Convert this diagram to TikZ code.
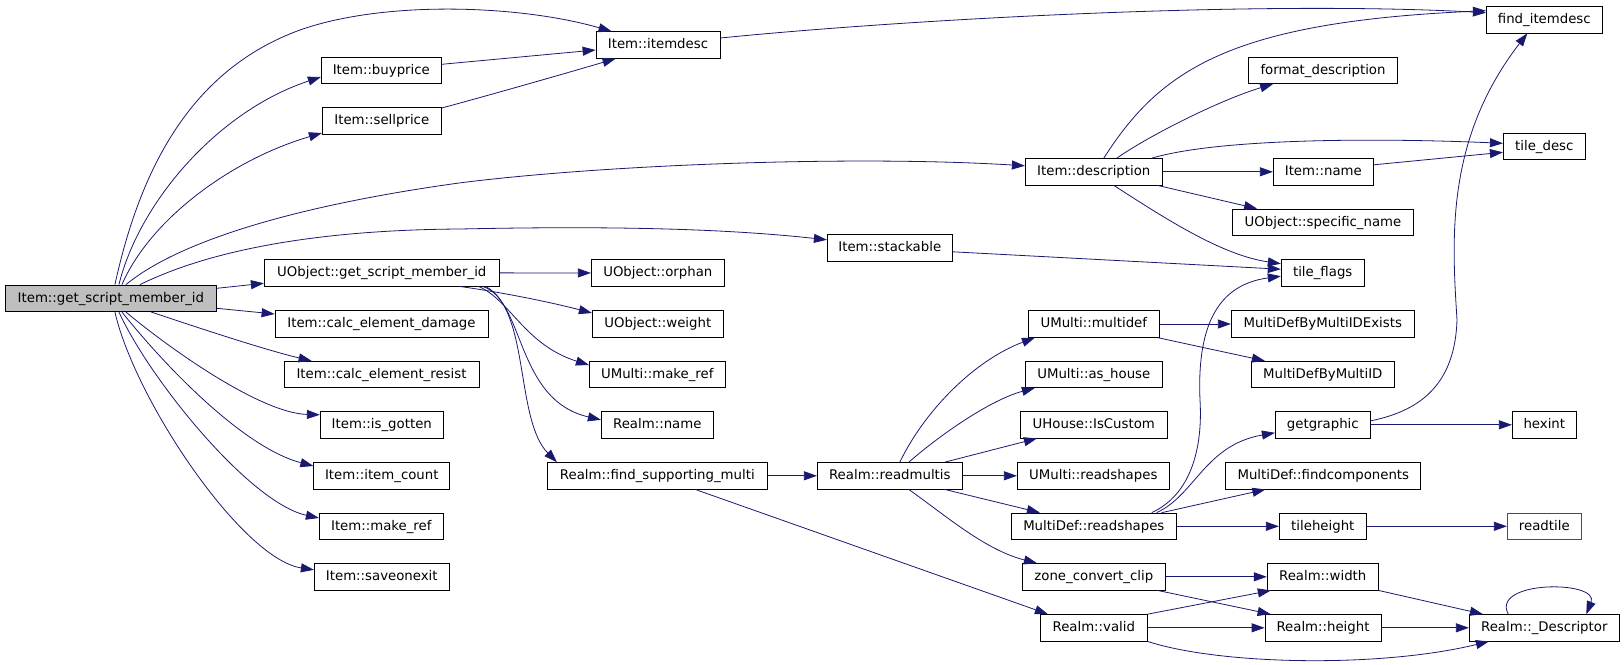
\documentclass[tikz,border=0pt]{standalone}
\usepackage{fontspec}
\setsansfont{DejaVu Sans}
\usetikzlibrary{arrows.meta}
\definecolor{callblue}{HTML}{191970}
\definecolor{rootgray}{HTML}{BFBFBF}

\begin{document}
\begin{tikzpicture}[x=1pt,y=-1pt,
    fn/.style={draw,line width=0.8pt,fill=white,inner sep=0pt,minimum height=26.5pt,
      text height=10.5pt,text depth=2.7pt,font=\sffamily\fontsize{13.3pt}{16pt}\selectfont},
    root/.style={fn,fill=rootgray},
    missing/.style={fn,draw=red},
    call/.style={callblue,line width=0.8pt,-{Triangle[length=13pt,width=9pt]}}]
  \useasboundingbox (0,0) rectangle (1624,664);

  % caller and first rank
  \node[root,minimum width=211pt] (getid) at (110.9,298.3) {Item::get\_script\_member\_id};
  \node[fn,minimum width=120pt] (buyprice) at (381.3,70.3) {Item::buyprice};
  \node[fn,minimum width=119pt] (sellprice) at (381.8,121) {Item::sellprice};
  \node[fn,minimum width=235pt] (objid) at (381.8,272.8) {UObject::get\_script\_member\_id};
  \node[fn,minimum width=213pt] (calcdmg) at (381.5,324) {Item::calc\_element\_damage};
  \node[fn,minimum width=195pt] (calcres) at (381.5,374.5) {Item::calc\_element\_resist};
  \node[fn,minimum width=123pt] (isgotten) at (381.8,424.8) {Item::is\_gotten};
  \node[fn,minimum width=136pt] (itemcount) at (381.8,476) {Item::item\_count};
  \node[fn,minimum width=124pt] (makeref) at (381.3,526.5) {Item::make\_ref};
  \node[fn,minimum width=135pt] (saveexit) at (381.8,576.8) {Item::saveonexit};

  % second rank
  \node[fn,minimum width=124pt] (itemdesc) at (658,45) {Item::itemdesc};
  \node[fn,minimum width=133pt] (orphan) at (657.8,273) {UObject::orphan};
  \node[fn,minimum width=131pt] (weight) at (657.8,324) {UObject::weight};
  \node[fn,minimum width=136pt] (umakeref) at (657.3,374.5) {UMulti::make\_ref};
  \node[fn,minimum width=112pt] (realmname) at (657.3,424.8) {Realm::name};
  \node[fn,minimum width=220pt] (findmulti) at (657.3,475.8) {Realm::find\_supporting\_multi};

  % third rank
  \node[fn,minimum width=125pt] (stackable) at (889.8,247.8) {Item::stackable};
  \node[fn,minimum width=145pt] (readmultis) at (889.8,475.8) {Realm::readmultis};

  % fourth rank
  \node[fn,minimum width=137pt] (describe) at (1093.8,171.8) {Item::description};
  \node[fn,minimum width=131pt] (multidef) at (1093.8,324) {UMulti::multidef};
  \node[fn,minimum width=137pt] (ashouse) at (1093.8,374.3) {UMulti::as\_house};
  \node[fn,minimum width=147pt] (iscustom) at (1093.8,424.8) {UHouse::IsCustom};
  \node[fn,minimum width=152pt] (ureadshapes) at (1093.3,475.8) {UMulti::readshapes};
  \node[fn,minimum width=165pt] (mdreadshapes) at (1093.8,526.3) {MultiDef::readshapes};
  \node[fn,minimum width=143pt] (zoneclip) at (1093.8,576.8) {zone\_convert\_clip};
  \node[fn,minimum width=107pt] (rvalid) at (1093.8,627.8) {Realm::valid};

  % fifth rank
  \node[fn,minimum width=149pt] (fmtdesc) at (1323,70.3) {format\_description};
  \node[fn,minimum width=100pt] (itemname) at (1323.3,171.8) {Item::name};
  \node[fn,minimum width=181pt] (specname) at (1323,222.3) {UObject::specific\_name};
  \node[fn,minimum width=83pt] (tileflags) at (1322.7,272.7) {tile\_flags};
  \node[fn,minimum width=183pt] (mdexists) at (1322.8,324) {MultiDefByMultiIDExists};
  \node[fn,minimum width=143pt] (mdbyid) at (1322.8,374.5) {MultiDefByMultiID};
  \node[fn,minimum width=95pt] (getgraphic) at (1322.8,424.8) {getgraphic};
  \node[fn,minimum width=195pt] (findcomp) at (1323.3,475.8) {MultiDef::findcomponents};
  \node[fn,minimum width=87pt] (tileheight) at (1322.8,526.3) {tileheight};
  \node[fn,minimum width=111pt] (rwidth) at (1322.7,576.8) {Realm::width};
  \node[fn,minimum width=116pt] (rheight) at (1323,627.8) {Realm::height};

  % last rank
  \node[fn,minimum width=116pt] (finddesc) at (1544.3,19.7) {find\_itemdesc};
  \node[fn,minimum width=82pt] (tiledesc) at (1544.3,146.3) {tile\_desc};
  \node[fn,minimum width=64pt] (hexint) at (1544.3,424.8) {hexint};
  \node[missing,minimum width=74pt] (readtile) at (1544.3,526.3) {readtile};
  \node[fn,minimum width=150pt] (rdesc) at (1544.3,627.8) {Realm::\_Descriptor};

  % calls on one row
  \foreach \a/\b in {describe/itemname,objid/orphan,findmulti/readmultis,readmultis/ureadshapes,
      multidef/mdexists,mdreadshapes/tileheight,tileheight/readtile,getgraphic/hexint,
      zoneclip/rwidth,rvalid/rheight,rheight/rdesc}
    \draw[call] (\a) -- (\b);

  % calls from the caller
  \draw[call] ([xshift=4pt]getid.north) .. controls (140,170) and (190,70) .. (300,30)
    .. controls (385,0) and (520,5) .. ([xshift=16pt]itemdesc.north west);
  \draw[call] ([xshift=8pt]getid.north) .. controls (140,200) and (220,110) .. ([yshift=-6.7pt]buyprice.west);
  \draw[call] ([xshift=11pt]getid.north) .. controls (150,220) and (230,160) .. ([yshift=-12pt]sellprice.west);
  \draw[call] ([xshift=15pt]getid.north) .. controls (180,240) and (300,205) .. (459,183)
    .. controls (600,165) and (850,155) .. ([yshift=6pt]describe.west);
  \draw[call] ([xshift=29pt]getid.north) .. controls (200,255) and (300,230) .. (460,229)
    .. controls (600,226) and (720,228) .. ([yshift=8pt]stackable.west);
  \draw[call] ([yshift=10pt]getid.east) -- ([yshift=-10.5pt]objid.west);
  \draw[call] ([yshift=-10pt]getid.east) -- ([yshift=10pt]calcdmg.west);
  \draw[call] ([xshift=40pt]getid.south) .. controls (190,325) and (265,350) .. ([xshift=28pt]calcres.north west);
  \draw[call] ([xshift=15pt]getid.south) .. controls (165,345) and (259,413) .. ([yshift=10pt]isgotten.west);
  \draw[call] ([xshift=11pt]getid.south) .. controls (160,360) and (241,447) .. ([yshift=10pt]itemcount.west);
  \draw[call] ([xshift=8pt]getid.south) .. controls (150,380) and (250,503) .. ([yshift=8.5pt]makeref.west);
  \draw[call] ([xshift=4pt]getid.south) .. controls (135,400) and (242,559) .. ([yshift=7pt]saveexit.west);

  % item descriptions
  \draw[call] ([yshift=6pt]buyprice.east) -- ([yshift=-5pt]itemdesc.west);
  \draw[call] ([yshift=13pt]sellprice.east) .. controls (490,95) and (560,75) .. ([xshift=20pt]itemdesc.south west);
  \draw[call] ([yshift=7pt]itemdesc.east) .. controls (900,20) and (1250,0) .. ([yshift=7pt]finddesc.west);
  \draw[call] ([xshift=10pt]describe.north) .. controls (1160,70) and (1230,22) .. ([yshift=9pt]finddesc.west);
  \draw[call] ([xshift=23pt]describe.north) .. controls (1150,135) and (1220,100) .. ([xshift=25pt]fmtdesc.south west);
  \draw[call] ([xshift=58pt]describe.north) .. controls (1220,138) and (1380,138) .. ([yshift=3pt]tiledesc.west);
  \draw[call] ([xshift=-5pt]describe.south east) -- ([xshift=25pt]specname.north west);
  \draw[call] ([xshift=20pt]describe.south) .. controls (1160,215) and (1220,255) .. ([yshift=9pt]tileflags.west);
  \draw[call] ([yshift=7pt]itemname.east) -- ([yshift=-6pt]tiledesc.west);
  \draw[call] ([yshift=-4pt]stackable.east) -- ([yshift=3.5pt]tileflags.west);

  % script member id
  \draw[call] ([xshift=-40pt]objid.south east) .. controls (500,292) and (550,302) .. ([yshift=11pt]weight.west);
  \draw[call] ([xshift=-21pt]objid.south east) .. controls (510,300) and (525,345) .. ([yshift=9.5pt]umakeref.west);
  \draw[call] ([xshift=-17pt]objid.south east) .. controls (525,300) and (515,400) .. ([yshift=5pt]realmname.west);
  \draw[call] ([xshift=-14pt]objid.south east) .. controls (530,310) and (515,420) .. ([xshift=10pt]findmulti.north west);
  \draw[call] ([xshift=38pt]findmulti.south) -- ([xshift=8pt]rvalid.north west);

  % multis
  \draw[call] ([xshift=10pt]readmultis.north) .. controls (925,410) and (975,360) .. ([xshift=7pt]multidef.south west);
  \draw[call] ([xshift=19pt]readmultis.north) .. controls (940,435) and (990,400) .. ([xshift=10pt]ashouse.south west);
  \draw[call] ([xshift=55pt]readmultis.north) -- ([xshift=17pt]iscustom.south west);
  \draw[call] ([xshift=55pt]readmultis.south) -- ([xshift=29pt]mdreadshapes.north west);
  \draw[call] ([xshift=19pt]readmultis.south) .. controls (945,515) and (985,550) .. ([xshift=15pt]zoneclip.north west);
  \draw[call] ([xshift=-2pt]multidef.south east) -- ([xshift=14pt]mdbyid.north west);
  \draw[call] ([xshift=-25pt]mdreadshapes.north east) .. controls (1190,495) and (1203,450) .. (1200,400)
    .. controls (1197,330) and (1215,285) .. ([yshift=-3.5pt]tileflags.west);
  \draw[call] ([xshift=-20pt]mdreadshapes.north east) .. controls (1195,495) and (1205,445) .. ([yshift=-8pt]getgraphic.west);
  \draw[call] ([xshift=-15pt]mdreadshapes.north east) -- ([xshift=40pt]findcomp.south west);
  \draw[call] ([yshift=4pt]getgraphic.east) .. controls (1425,410) and (1455,380) .. (1457,320)
    .. controls (1452,240) and (1445,140) .. ([xshift=-17pt]finddesc.south);

  % realm sizes
  \draw[call] ([xshift=-8pt]zoneclip.south east) -- ([xshift=6pt]rheight.north west);
  \draw[call] (rvalid.north east) -- ([xshift=4pt]rwidth.south west);
  \draw[call] (rvalid.south east) .. controls (1220,665) and (1380,668) .. ([xshift=20pt]rdesc.south west);
  \draw[call] (rwidth.south east) -- ([xshift=14pt]rdesc.north west);
  \draw[call] ([xshift=-36pt]rdesc.north) .. controls (1490,580) and (1600,580) .. ([xshift=42pt]rdesc.north);
\end{tikzpicture}
\end{document}
